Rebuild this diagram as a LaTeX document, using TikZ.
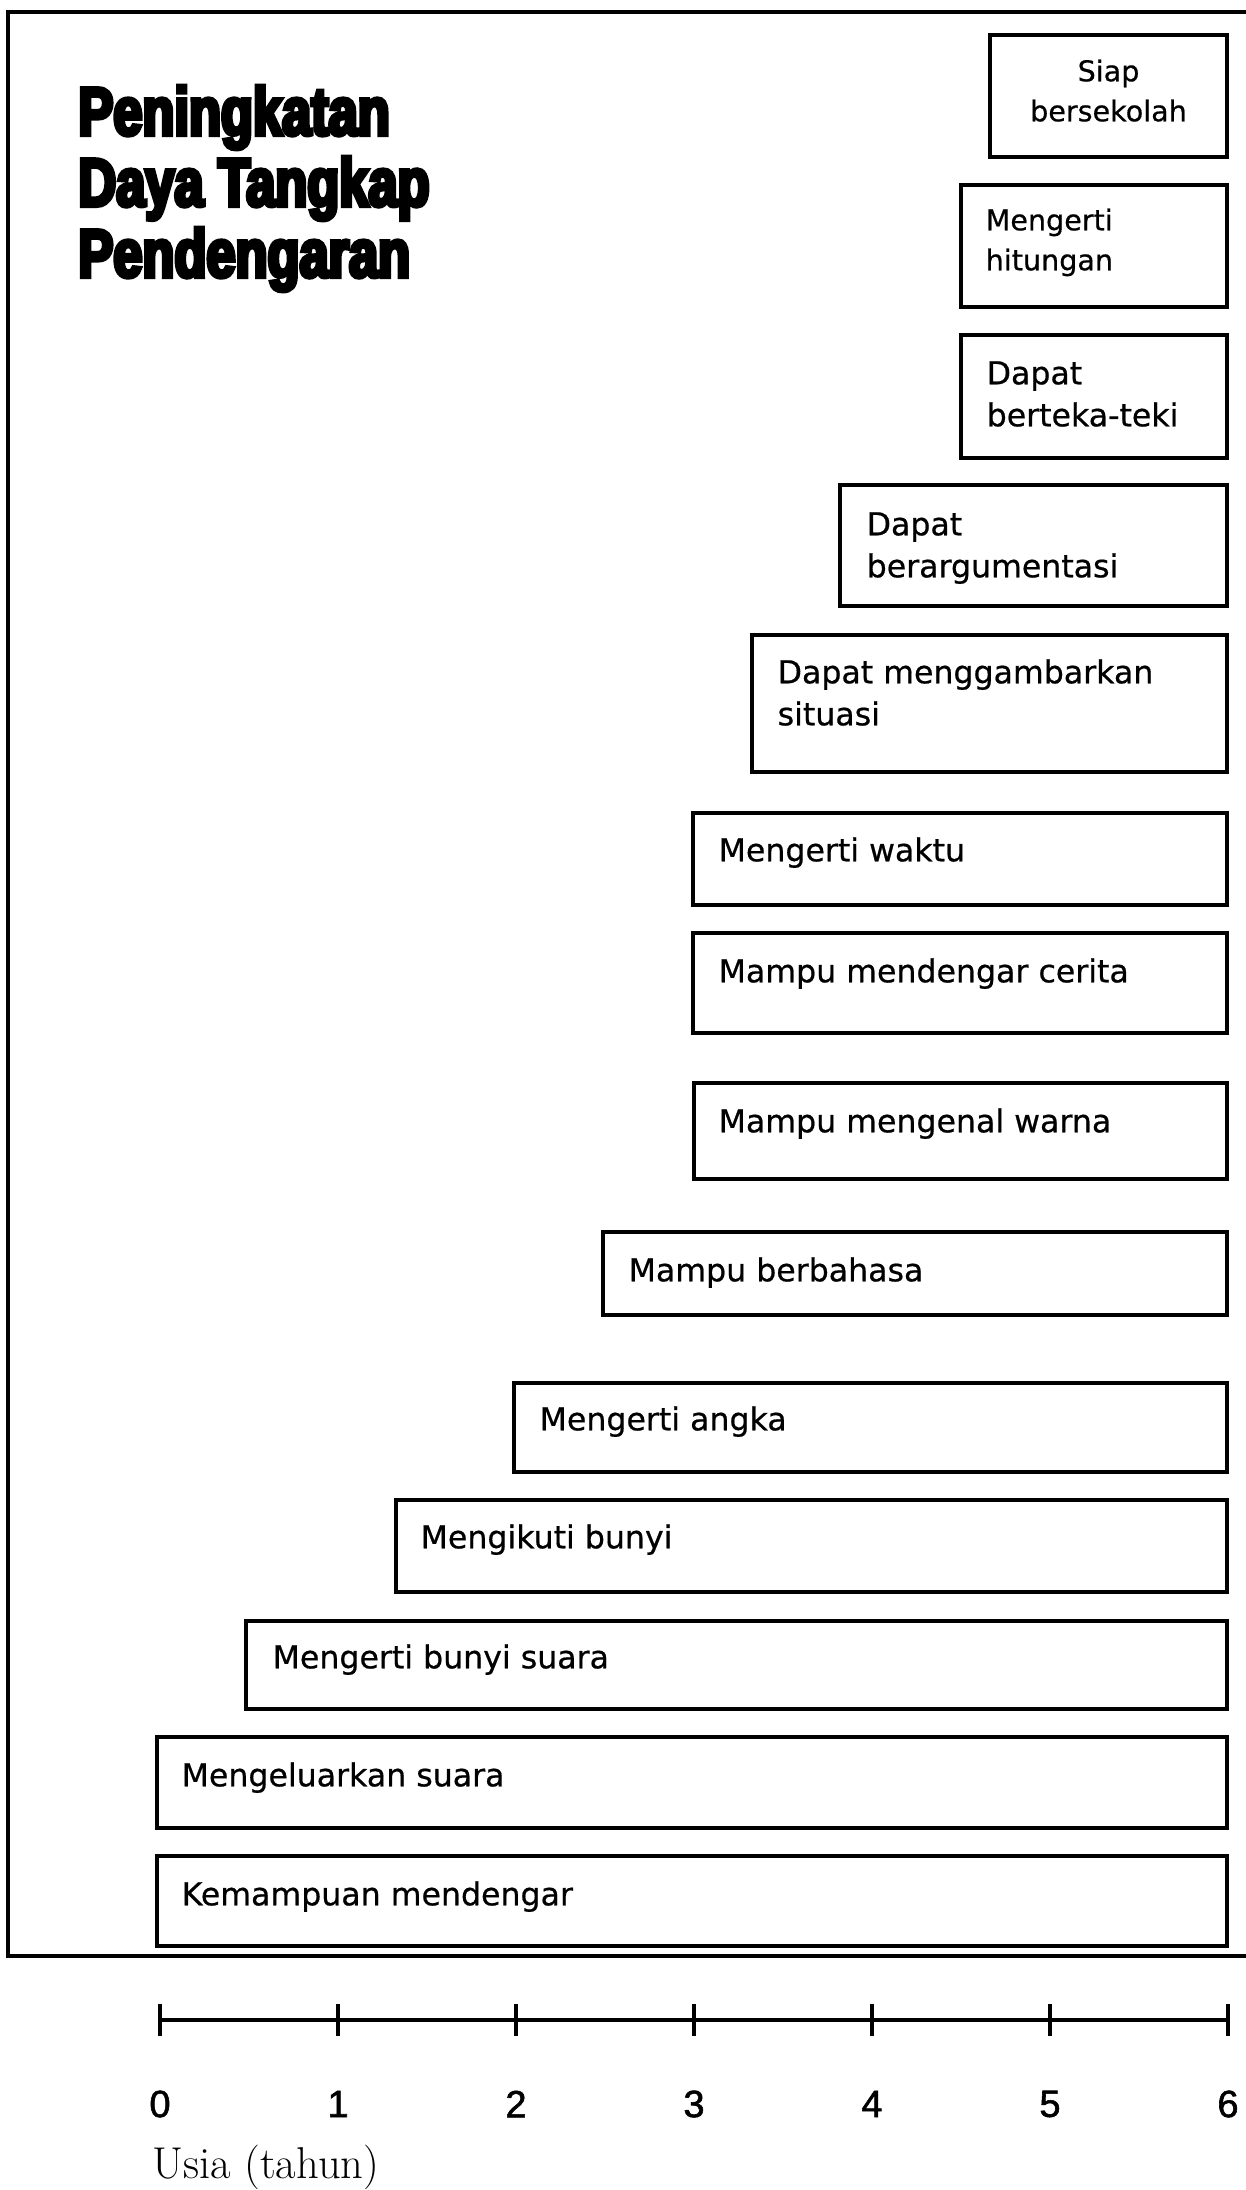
\documentclass[tikz,border=0pt]{standalone}
\usepackage{fontspec}
\usetikzlibrary{fit}
\newfontfamily\boxfont[FakeBold=0.6]{DejaVu Sans}
\newfontfamily\axisfont[FakeBold=1.5]{Liberation Sans}
\newfontfamily\titlefont[FakeStretch=0.77,FakeBold=6]{Liberation Sans}
\newcommand{\mylinesL}[1]{\begin{tabular}[t]{@{}l@{}}#1\end{tabular}}
\newcommand{\mylinesC}[1]{\begin{tabular}[t]{@{}c@{}}#1\end{tabular}}
\begin{document}
\begin{tikzpicture}[x=0.5pt,y=-0.5pt,
  frameline/.style={line width=1.7pt},
  box/.style={draw,line width=1.7pt,inner sep=0pt},
  lbl/.style={anchor=base west,inner sep=0pt,font=\boxfont\fontsize{15.8}{21}\selectfont},
  lblsmall/.style={inner sep=0pt,font=\boxfont\fontsize{14.3}{20}\selectfont},
  digit/.style={inner sep=0pt,font=\axisfont\fontsize{19}{22}\selectfont},
  axisline/.style={line width=1.7pt}]
\useasboundingbox (0,0) rectangle (1246,2190);
% outer frame (right side cut off)
\coordinate (fTR) at (1246,12);
\coordinate (fTL) at (8,12);
\coordinate (fBL) at (8,1956);
\coordinate (fBR) at (1246,1956);
\draw[frameline] (fTR) -- (fTL) -- (fBL) -- (fBR);
% title
\node[anchor=base west,inner sep=0pt,font=\titlefont\bfseries\fontsize{34}{35.5}\selectfont] (title) at (78,135)
  {\mylinesL{Peningkatan\\Daya Tangkap\\Pendengaran}};
% boxes
\node[box,fit={(990,35) (1227,157)}] (b1) {};
\node[box,fit={(961,185) (1227,307)}] (b2) {};
\node[box,fit={(961,335) (1227,458)}] (b3) {};
\node[box,fit={(840,485) (1227,606)}] (b4) {};
\node[box,fit={(752,635) (1227,772)}] (b5) {};
\node[box,fit={(693,813) (1227,905)}] (b6) {};
\node[box,fit={(693,933) (1227,1033)}] (b7) {};
\node[box,fit={(694,1083) (1227,1179)}] (b8) {};
\node[box,fit={(603,1232) (1227,1315)}] (b9) {};
\node[box,fit={(514,1383) (1227,1472)}] (b10) {};
\node[box,fit={(396,1500) (1227,1592)}] (b11) {};
\node[box,fit={(246,1621) (1227,1709)}] (b12) {};
\node[box,fit={(157,1737) (1227,1828)}] (b13) {};
\node[box,fit={(157,1856) (1227,1946)}] (b14) {};
% labels
\node[lblsmall,anchor=base] (t1) at ([yshift=-24pt]b1.north) {\mylinesC{Siap\\bersekolah}};
\node[lblsmall,anchor=base west] (t2) at ([shift={(26,47)}]b2.north west) {\mylinesL{Mengerti\\hitungan}};
\node[lbl] (t3) at ([shift={(27,51)}]b3.north west) {\mylinesL{Dapat\\berteka-teki}};
\node[lbl] (t4) at ([shift={(28,52)}]b4.north west) {\mylinesL{Dapat\\berargumentasi}};
\node[lbl] (t5) at ([shift={(27,50)}]b5.north west) {\mylinesL{Dapat menggambarkan\\situasi}};
\node[lbl] (t6) at ([shift={(27,50)}]b6.north west) {Mengerti waktu};
\node[lbl] (t7) at ([shift={(27,51)}]b7.north west) {Mampu mendengar cerita};
\node[lbl] (t8) at ([shift={(26,51)}]b8.north west) {Mampu mengenal warna};
\node[lbl] (t9) at ([shift={(27,51)}]b9.north west) {Mampu berbahasa};
\node[lbl] (t10) at ([shift={(27,49)}]b10.north west) {Mengerti angka};
\node[lbl] (t11) at ([shift={(26,50)}]b11.north west) {Mengikuti bunyi};
\node[lbl] (t12) at ([shift={(28,49)}]b12.north west) {Mengerti bunyi suara};
\node[lbl] (t13) at ([shift={(26,51)}]b13.north west) {Mengeluarkan suara};
\node[lbl] (t14) at ([shift={(26,51)}]b14.north west) {Kemampuan mendengar};
% axis
\foreach \k in {0,...,6} {
  \coordinate (a\k) at ({160+178*\k},2020);
}
\draw[axisline] (a0) -- (a6);
\foreach \k in {0,...,6} {
  \draw[axisline] ([yshift=8pt]a\k) -- ([yshift=-8pt]a\k);
  \node[digit] (d\k) at ([yshift=-42pt]a\k) {\k};
}
\node[anchor=base west,inner sep=0pt,font=\fontsize{22.3}{26}\selectfont] (usia) at (152,2178) {Usia (tahun)};
\end{tikzpicture}
\end{document}
